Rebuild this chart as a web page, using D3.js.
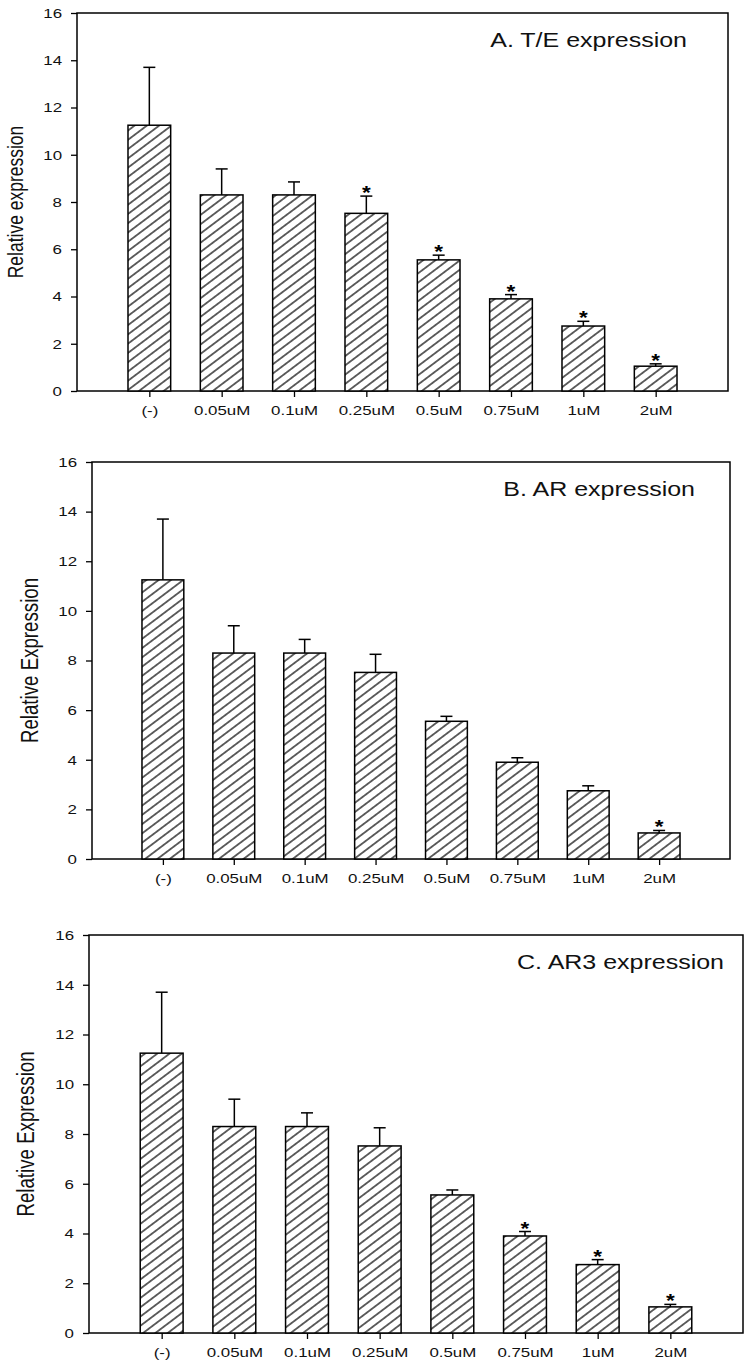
<!DOCTYPE html>
<html><head><meta charset="utf-8">
<script src="https://cdn.jsdelivr.net/npm/d3@7"></script>
<style>
html,body{margin:0;padding:0;background:#fff;}
svg{display:block;font-family:"Liberation Sans",Arial,sans-serif;}
</style></head>
<body>
<script>
// ---- data ----
const categories = ["(-)","0.05uM","0.1uM","0.25uM","0.5uM","0.75uM","1uM","2uM"];
const means = [11.25, 8.3, 8.3, 7.52, 5.55, 3.9, 2.75, 1.05];
const errUp = [2.45, 1.1, 0.55, 0.73, 0.2, 0.18, 0.2, 0.1];
const yTicks = [0, 2, 4, 6, 8, 10, 12, 14, 16];
const panelTitles = ["A. T/E expression", "B. AR expression", "C. AR3 expression"];
const yTitles = ["Relative expression", "Relative Expression", "Relative Expression"];
const starsA = [0,0,0,1,1,1,1,1];
const starsB = [0,0,0,0,0,0,0,1];
const starsC = [0,0,0,0,0,1,1,1];

// ---- layout ----
const SX = 1.25; // horizontal text stretch seen in reference
const panels = [
  {left:77, right:728, top:13,  bottom:391,  titleEnd:687, yTitleX:15, yTitleSize:17.5, stars:starsA},
  {left:92, right:730, top:462, bottom:859,  titleEnd:695, yTitleX:30, yTitleSize:18.7, stars:starsB},
  {left:89, right:743, top:935, bottom:1333, titleEnd:724, yTitleX:26, yTitleSize:18.7, stars:starsC}
];

const svg = d3.select("body").append("svg").attr("width",750).attr("height",1369);
const defs = svg.append("defs");
const pat = defs.append("pattern").attr("id","hatch").attr("patternUnits","userSpaceOnUse")
  .attr("width",10).attr("height",7.4).attr("patternTransform","rotate(-37)");
pat.append("rect").attr("width",10).attr("height",7.4).attr("fill","#fff");
pat.append("line").attr("x1",0).attr("x2",10).attr("y1",3.7).attr("y2",3.7)
  .attr("stroke","#000").attr("stroke-width",1.2);

panels.forEach((p, pi) => {
  const g = svg.append("g");
  const x = d3.scalePoint().domain(categories).range([p.left, p.right]).padding(1);
  const y = d3.scaleLinear().domain([0,16]).range([p.bottom, p.top]);
  const bw = x.step()*0.59;

  // frame
  g.append("rect").attr("x",p.left).attr("y",p.top).attr("width",p.right-p.left).attr("height",p.bottom-p.top)
    .attr("fill","none").attr("stroke","#000").attr("stroke-width",1.5);

  // y axis
  const ya = g.append("g").attr("transform",`translate(${p.left},0)`)
    .call(d3.axisLeft(y).tickValues(yTicks).tickSize(6).tickPadding(6).tickFormat(d3.format("d")));
  ya.select(".domain").remove();
  ya.selectAll(".tick line").attr("stroke","#000").attr("stroke-width",1.3);
  ya.selectAll(".tick text").attr("font-size",13.5).attr("fill","#111")
    .attr("font-family","Liberation Sans, Arial, sans-serif")
    .attr("transform",`scale(${SX},1)`);

  // x axis
  const xa = g.append("g").attr("transform",`translate(0,${p.bottom})`)
    .call(d3.axisBottom(x).tickSize(6).tickPadding(8));
  xa.select(".domain").remove();
  xa.selectAll(".tick line").attr("stroke","#000").attr("stroke-width",1.3);
  xa.selectAll(".tick text").attr("font-size",13.5).attr("fill","#111")
    .attr("font-family","Liberation Sans, Arial, sans-serif")
    .attr("transform",`scale(${SX},1)`);

  // bars
  const bars = g.append("g");
  categories.forEach((c,i) => {
    const cx = x(c);
    const yt = y(means[i]);
    bars.append("rect").attr("x",cx-bw/2).attr("y",yt).attr("width",bw).attr("height",y(0)-yt)
      .attr("fill","url(#hatch)").attr("stroke","#000").attr("stroke-width",1.5);
    const ye = y(means[i]+errUp[i]);
    bars.append("line").attr("x1",cx).attr("x2",cx).attr("y1",yt).attr("y2",ye)
      .attr("stroke","#000").attr("stroke-width",1.5);
    bars.append("line").attr("x1",cx-6).attr("x2",cx+6).attr("y1",ye).attr("y2",ye)
      .attr("stroke","#000").attr("stroke-width",1.5);
    if (p.stars[i]) {
      bars.append("text").attr("transform",`translate(${cx},${ye+3}) scale(${SX},1)`)
        .attr("text-anchor","middle").attr("font-size",18).attr("font-weight","bold").text("*");
    }
  });

  // titles
  g.append("text").attr("transform",`translate(${p.titleEnd},${p.top+34}) scale(${SX},1)`)
    .attr("text-anchor","end").attr("font-size",20).attr("fill","#111").text(panelTitles[pi]);
  g.append("text").attr("transform",`translate(${p.yTitleX},${(p.top+p.bottom)/2}) scale(${SX},1) rotate(-90)`)
    .attr("text-anchor","middle").attr("dominant-baseline","central")
    .attr("font-size",p.yTitleSize).attr("fill","#111").text(yTitles[pi]);
});
</script>
</body></html>
